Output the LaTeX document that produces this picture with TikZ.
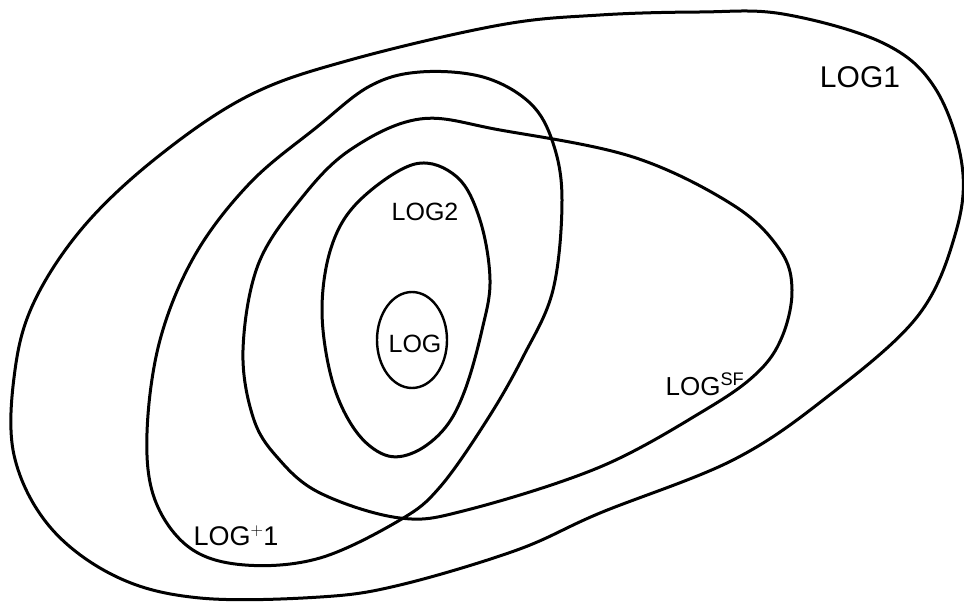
\documentclass[tikz,border=0pt]{standalone}
\usepackage{fontspec}
\setmainfont{Liberation Sans}
\begin{document}
\begin{tikzpicture}[x=1pt,y=-1pt,
  setline/.style={draw=black,line width=3pt,line join=round},
  lbl/.style={inner sep=0pt,anchor=base,font=\fontsize{#1}{#1}\selectfont}]
\useasboundingbox (0,0) rectangle (964,604);
% LOG1 outer
\draw[setline] plot[smooth cycle,tension=0.6] coordinates{
 (250,95) (350,60) (500,25) (600,15) (700,12) (783,14) (883,43)
 (935,88) (962,165) (955,235) (917,317) (827,397) (733,460)
 (600,513) (517,550) (400,585) (320,597) (200,598) (117,577)
 (50,527) (14,455) (15,370) (35,300) (85,225) (160,155)};
% LOG+1
\draw[setline] plot[smooth cycle,tension=0.6] coordinates{
 (420,72) (483,77) (530,103) (553,143) (562,200) (553,290)
 (523,357) (487,420) (440,487) (400,520) (320,558) (245,565)
 (190,548) (155,500) (147,433) (160,340) (195,255) (250,183)
 (317,127) (370,86)};
% LOGSF
\draw[setline] plot[smooth cycle,tension=0.6] coordinates{
 (420,119) (500,130) (633,157) (733,205) (780,250) (792,290)
 (782,337) (757,373) (705,410) (600,467) (467,510) (400,518)
 (320,493) (277,457) (253,417) (243,350) (258,265) (300,200)
 (350,150)};
% LOG2
\draw[setline] plot[smooth cycle,tension=0.6] coordinates{
 (415,164) (457,177) (480,220) (490,280) (482,330) (465,390)
 (445,428) (415,452) (385,455) (355,430) (332,380) (322,310)
 (332,245) (360,200)};
% LOG
\draw[setline,line width=2.4pt] (412,340) ellipse[x radius=35,y radius=48];
\node[lbl=30] (log1) at (860,88) {LOG1};
\node[lbl=25] (log2) at (425,221) {LOG2};
\node[lbl=25] (log) at (415,352) {LOG};
\node[lbl=26] (logsf) at (705,395) {LOG$^{\mathrm{SF}}$};
\node[lbl=27] (logp1) at (236,545) {LOG$^{+}$1};
\end{tikzpicture}
\end{document}
